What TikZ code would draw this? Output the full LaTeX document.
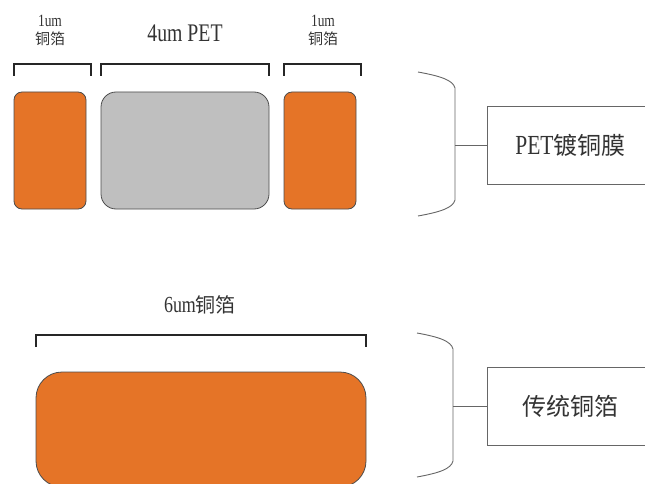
\documentclass[tikz,border=0pt]{standalone}
\usepackage{fontspec}
\setmainfont{Liberation Serif}[Scale=1.15,FakeStretch=0.78]
\newfontfamily\cjk{Noto Sans CJK SC}
\usetikzlibrary{positioning}
\definecolor{cuorange}{HTML}{E57427}
\definecolor{petgray}{HTML}{BFBFBF}
\definecolor{txtgray}{HTML}{333333}

\begin{document}
\begin{tikzpicture}[x=1pt,y=-1pt,font=\fontsize{15}{18}\selectfont,text=txtgray]
\tikzstyle{layer}=[draw=black!70,line width=0.8pt,inner sep=0pt]
\tikzstyle{brk}=[line width=1.8pt,black!85]
\tikzstyle{brace}=[draw=black!60,line width=0.9pt]
\tikzstyle{lbl}=[draw=black!60,line width=0.9pt,anchor=west,minimum height=78pt,minimum width=166pt,font=\fontsize{24}{28}\selectfont]
\useasboundingbox (0,0) rectangle (645,484);
\clip (0,0) rectangle (645,484);
% PET copper-plated film
\node[layer,fill=cuorange,minimum width=72pt,minimum height=117pt,rounded corners=8pt] (cu1) at (50,150.5) {};
\node[layer,fill=petgray,minimum width=168pt,minimum height=117pt,rounded corners=15pt] (pet) at (185,150.5) {};
\node[layer,fill=cuorange,minimum width=72pt,minimum height=117pt,rounded corners=8pt] (cu2) at (320,150.5) {};
\draw[brk] (14,76) |- (91,64) -- (91,76); \draw[brk] (101,76) |- (269,64) -- (269,76); \draw[brk] (284,76) |- (361,64) -- (361,76);
\node[align=center] (t1) at (50,30) {1um\\{\cjk 铜箔}};
\node[font=\fontsize{22}{26}\selectfont] (t2) at (185,33) {4um PET};
\node[align=center] (t3) at (323,30) {1um\\{\cjk 铜箔}};
\draw[brace] (418,72) .. controls (440,76) and (453,80) .. (455,88) -- (455,200) .. controls (453,208) and (440,212) .. (418,216);
\coordinate (m1) at (455,145);
\node[lbl] (petfilm) at (487,145) {PET{\cjk 镀铜膜}};
\draw[brace] (m1) -- (petfilm.west);
% traditional copper foil
\node[layer,fill=cuorange,minimum width=330pt,minimum height=115pt,rounded corners=26pt] (cu3) at (201,429.5) {};
\draw[brk] (36,347) |- (366,335) -- (366,347);
\node[font=\fontsize{20}{24}\selectfont] (t4) at (200,305) {6um{\cjk 铜箔}};
\draw[brace] (417,333) .. controls (439,337) and (451,341) .. (453,349) -- (453,461) .. controls (451,469) and (439,473) .. (417,477);
\coordinate (m2) at (453,406);
\node[lbl] (trad) at (487,406) {\cjk 传统铜箔};
\draw[brace] (m2) -- (trad.west);
\end{tikzpicture}
\end{document}
